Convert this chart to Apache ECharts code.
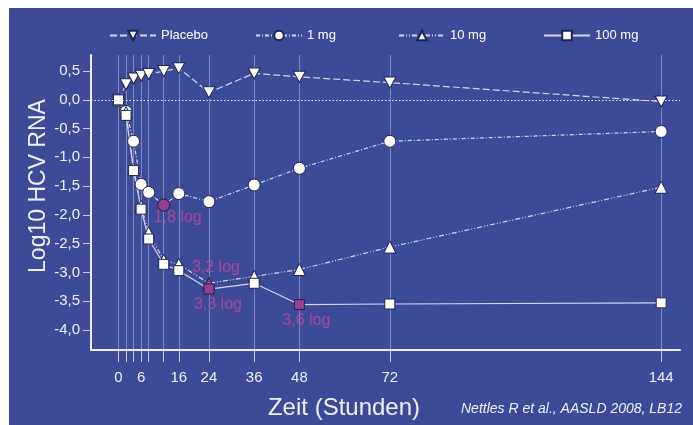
<!DOCTYPE html>
<html>
<head>
<meta charset="utf-8">
<script src="https://cdn.jsdelivr.net/npm/echarts@6/dist/echarts.min.js"></script>
<style>
  html, body { margin: 0; padding: 0; background: #ffffff; }
  #chart { width: 693px; height: 425px; }
</style>
</head>
<body>
<div id="chart"></div>
<script>
// Sampling times (hours) and mean change in log10 HCV RNA per dose group
const hours = [0, 2, 4, 6, 8, 12, 16, 24, 36, 48, 72, 144];
const placebo = [0, 0.27, 0.37, 0.42, 0.45, 0.50, 0.55, 0.13, 0.46, 0.40, 0.30, -0.03];
const dose1mg = [0, -0.20, -0.72, -1.47, -1.61, -1.83, -1.63, -1.77, -1.48, -1.19, -0.72, -0.55];
const dose10mg = [0, -0.22, -1.20, -1.85, -2.31, -2.79, -2.86, -3.19, -3.07, -2.95, -2.56, -1.52];
const dose100mg = [0, -0.27, -1.23, -1.90, -2.42, -2.86, -2.97, -3.29, -3.19, -3.56, -3.55, -3.53];

// Axis ticks and labels
const xTicks = [0, 2, 4, 6, 8, 12, 16, 24, 36, 48, 72, 144];
const xLabels = [0, 6, 16, 24, 36, 48, 72, 144];
const yTicks = [0.5, 0, -0.5, -1, -1.5, -2, -2.5, -3, -3.5, -4];

// Points marked as maximum reduction (index into hours) with label offsets
const nadir1mg = [[5, [14, 13]]];
const nadir10mg = [[7, [7, -16]]];
const nadir100mg = [[7, [9, 16]], [9, [7, 16]]];

const BG = '#3d4a97';
const LINE = '#d3d6ea';
const PURPLE = '#963f90';
const PURPLE_TEXT = '#a8489f';
const FONT = '"Liberation Sans", Arial, sans-serif';
const DOWN_TRI = 'path://M0,0 L10,0 L5,9 Z';

function fmtComma(v) {
  return v.toFixed(1).replace('.', ',');
}

function buildData(values, marks) {
  return values.map((v, i) => {
    const item = { value: [hours[i], v] };
    const m = marks.find(e => e[0] === i);
    if (m) {
      item.itemStyle = { color: PURPLE };
      item.label = {
        show: true,
        position: 'inside',
        offset: m[1],
        formatter: fmtComma(-v) + ' log',
        color: PURPLE_TEXT,
        fontSize: 16,
        fontFamily: FONT
      };
    }
    return item;
  });
}

function lineSeries(name, values, marks, symbol, size, dash) {
  return {
    name: name,
    type: 'line',
    data: buildData(values, marks),
    symbol: symbol,
    symbolSize: size,
    showAllSymbol: true,
    lineStyle: { color: LINE, width: 1.2, type: dash },
    itemStyle: { color: '#ffffff', borderColor: '#1e2450', borderWidth: 1 },
    emphasis: { disabled: true },
    animation: false
  };
}

const chart = echarts.init(document.getElementById('chart'), null, { renderer: 'canvas' });

const legendBase = {
  top: 29,
  padding: 0,
  itemWidth: 46,
  itemHeight: 12,
  textStyle: { color: '#ffffff', fontSize: 13, fontFamily: FONT },
  selectedMode: false
};

chart.setOption({
  backgroundColor: '#ffffff',
  animation: false,
  graphic: [
    { type: 'rect', z: -100, shape: { x: 9, y: 8, width: 684, height: 417 }, style: { fill: BG } },
    {
      type: 'text', z: 10, x: 344, y: 408,
      style: { text: 'Zeit (Stunden)', fill: '#eef0f8', font: '24px ' + FONT, textAlign: 'center', textVerticalAlign: 'middle' }
    },
    {
      type: 'text', z: 10, x: 682, y: 409,
      style: { text: 'Nettles R et al., AASLD 2008, LB12', fill: '#eef0f8', font: 'italic 14px ' + FONT, textAlign: 'right', textVerticalAlign: 'middle' }
    },
    {
      type: 'text', z: 10, x: 39, y: 186, rotation: Math.PI / 2,
      style: { text: 'Log10 HCV RNA', fill: '#eef0f8', font: '23px ' + FONT, textAlign: 'center', textVerticalAlign: 'middle' }
    }
  ],
  legend: [
    Object.assign({}, legendBase, { left: 109, data: ['Placebo'] }),
    Object.assign({}, legendBase, { left: 255, data: ['1 mg'] }),
    Object.assign({}, legendBase, { left: 398, data: ['10 mg'] }),
    Object.assign({}, legendBase, { left: 543, data: ['100 mg'] })
  ],
  grid: { left: 91, right: 13, top: 55, bottom: 75 },
  xAxis: {
    type: 'value',
    min: -7.3,
    max: 149,
    axisLine: { show: true, onZero: false, lineStyle: { color: '#eceef6', width: 2 } },
    axisTick: { show: true, customValues: xTicks, length: 12, lineStyle: { color: '#c9cde6', width: 1 } },
    axisLabel: { customValues: xLabels, color: '#eef0f8', fontSize: 15, fontFamily: FONT, margin: 20 },
    splitLine: { show: true, lineStyle: { color: '#7f89c4', width: 1 } }
  },
  yAxis: {
    type: 'value',
    min: -4.35,
    max: 0.78,
    axisLine: { show: true, onZero: false, lineStyle: { color: '#eceef6', width: 2 } },
    axisTick: { show: true, customValues: yTicks, length: 8, lineStyle: { color: '#c9cde6', width: 1 } },
    axisLabel: { customValues: yTicks, color: '#eef0f8', fontSize: 15, fontFamily: FONT, margin: 11,
      formatter: v => fmtComma(v) },
    splitLine: { show: false }
  },
  series: [
    Object.assign(lineSeries('Placebo', placebo, [], DOWN_TRI, [12, 11], [7, 3]), {
      markLine: {
        silent: true, symbol: 'none', animation: false,
        lineStyle: { color: '#e8eaf5', width: 1, type: [1.5, 2] },
        label: { show: false },
        data: [{ yAxis: 0 }]
      }
    }),
    lineSeries('1 mg', dose1mg, nadir1mg, 'circle', 12, [4, 2, 1, 2]),
    lineSeries('10 mg', dose10mg, nadir10mg, 'triangle', 12, [5, 2, 1, 2, 1, 2]),
    lineSeries('100 mg', dose100mg, nadir100mg, 'rect', 10, 'solid')
  ]
});
</script>
</body>
</html>
